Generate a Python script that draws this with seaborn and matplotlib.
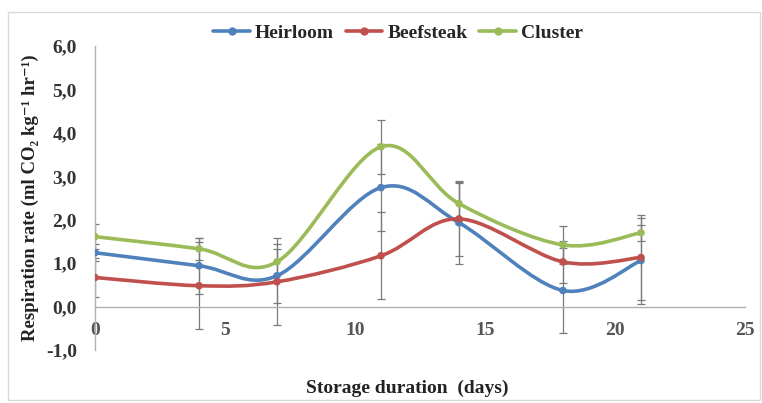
import numpy as np
import pandas as pd
import matplotlib
matplotlib.use("Agg")
import matplotlib.pyplot as plt
import seaborn as sns
from matplotlib.path import Path
from matplotlib.patches import PathPatch, Rectangle
from matplotlib.lines import Line2D

# ---- data ----
days = [0, 4, 7, 11, 14, 18, 21]
heirloom = [1.24, 0.94, 0.71, 2.74, 1.93, 0.37, 1.06]
beefsteak = [0.67, 0.48, 0.57, 1.17, 2.02, 1.03, 1.13]
cluster = [1.61, 1.33, 1.03, 3.68, 2.37, 1.42, 1.70]
heirloom_err = [0.20, 0.65, 0.62, 1.00, 0.95, 0.99, 0.99]
beefsteak_err = [0.45, 1.00, 1.00, 1.00, 0.85, 0.48, 0.99]
cluster_err = [0.28, 0.26, 0.42, 0.62, 0.48, 0.44, 0.18]
series_names = ["Heirloom", "Beefsteak", "Cluster"]
x_ticks = [0, 5, 10, 15, 20, 25]
y_ticks = [-1, 0, 1, 2, 3, 4, 5, 6]

colors = {"Heirloom": "#4F81BD", "Beefsteak": "#C0504D", "Cluster": "#9BBB59"}

df = pd.DataFrame({
    "day": days * 3,
    "rate": heirloom + beefsteak + cluster,
    "err": heirloom_err + beefsteak_err + cluster_err,
    "variety": sum([[n] * len(days) for n in series_names], []),
})

sns.set_theme(style="white")
plt.rcParams["font.family"] = ["Liberation Serif", "DejaVu Serif"]

fig = plt.figure(figsize=(7.62, 4.03), dpi=100)
ax = fig.add_axes([95 / 762, 1 - 350 / 403, (745 - 95) / 762, (350 - 46) / 403])

# chart border
fig.patches.append(Rectangle((8 / 762, 3 / 403), 752 / 762, 388 / 403,
                             transform=fig.transFigure, fill=False,
                             edgecolor="#d9d9d9", lw=1))


def smooth_path(xs, ys):
    pts = np.column_stack([xs, ys]).astype(float)
    n = len(pts)
    verts = [pts[0]]
    codes = [Path.MOVETO]
    for i in range(n - 1):
        p0 = pts[i - 1] if i > 0 else pts[i]
        p1 = pts[i]
        p2 = pts[i + 1]
        p3 = pts[i + 2] if i + 2 < n else pts[i + 1]
        c1 = p1 + (p2 - p0) / 6.0
        c2 = p2 - (p3 - p1) / 6.0
        verts += [c1, c2, p2]
        codes += [Path.CURVE4] * 3
    return Path(verts, codes)


for name in series_names:
    sub = df[df["variety"] == name]
    ax.errorbar(sub["day"], sub["rate"], yerr=sub["err"], fmt="none",
                ecolor="#7a7a7a", elinewidth=0.9, capsize=3, capthick=0.9, zorder=2)

for name in series_names:
    sub = df[df["variety"] == name]
    ax.add_patch(PathPatch(smooth_path(sub["day"].values, sub["rate"].values),
                           fill=False, edgecolor=colors[name], lw=2.6,
                           capstyle="round", joinstyle="round", zorder=3))

sns.scatterplot(data=df, x="day", y="rate", hue="variety", palette=colors,
                marker="o", s=30, edgecolor="none", legend=False, ax=ax, zorder=4)

ax.set_xlim(0, 25)
ax.set_ylim(-1, 6)
ax.set_xticks(x_ticks)
ax.set_xticklabels([str(t) for t in x_ticks])
ax.set_yticks(y_ticks)
ax.set_yticklabels([f"{t:.1f}".replace(".", ",") for t in y_ticks])

for s in ["top", "right"]:
    ax.spines[s].set_visible(False)
ax.spines["bottom"].set_position(("data", 0))
for s in ["bottom", "left"]:
    ax.spines[s].set_color("#b0b0b0")
    ax.spines[s].set_linewidth(1)

ax.tick_params(axis="x", length=0, pad=11, labelsize=14, labelcolor="#555555")
ax.tick_params(axis="y", length=0, pad=13, labelsize=14, labelcolor="#333333")
for lab in ax.get_xticklabels() + ax.get_yticklabels():
    lab.set_fontweight("bold")

ax.set_xlabel("")
ax.set_ylabel("")
fig.text(30 / 762, 1 - 198 / 403, "Respiration rate (ml CO₂ kg⁻¹ hr⁻¹)",
         rotation=90, ha="center", va="center", fontsize=13.5, fontweight="bold",
         color="#222222")
fig.text(407 / 762, 1 - 388 / 403, "Storage duration  (days)",
         ha="center", va="center", fontsize=14, fontweight="bold", color="#222222")

handles = [Line2D([0], [0], color=colors[n], lw=2.6, marker="o", markersize=5)
           for n in series_names]
fig.legend(handles, series_names, loc="center", bbox_to_anchor=(398 / 762, 1 - 33 / 403),
           ncol=3, frameon=False, prop={"weight": "bold", "size": 14},
           handlelength=1.9, handletextpad=0.25, columnspacing=0.6)

fig.savefig("out.png", dpi=100)
